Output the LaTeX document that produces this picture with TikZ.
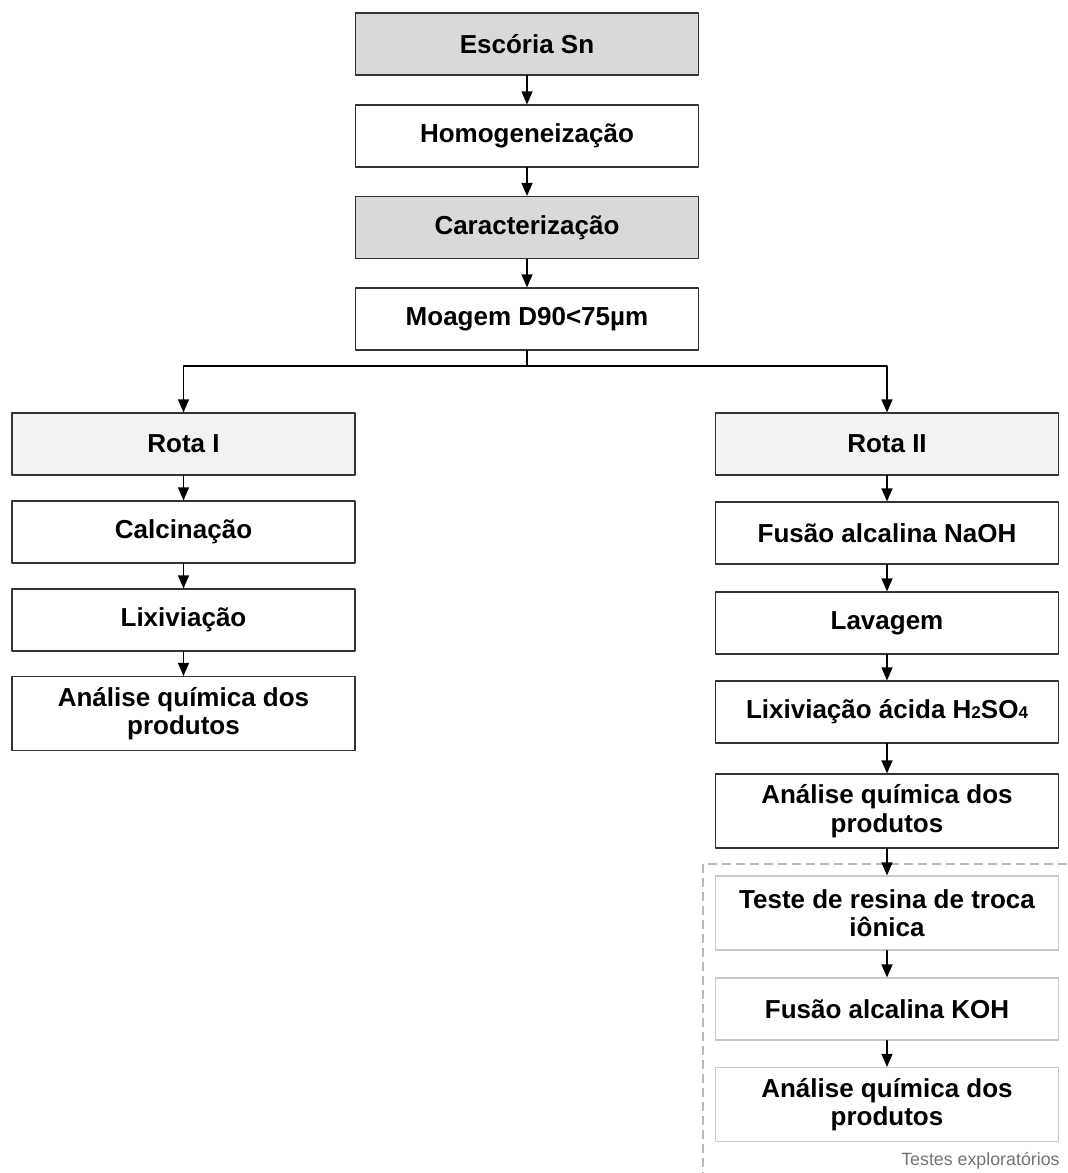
\documentclass[tikz,border=0pt]{standalone}
\usepackage{fontspec}
\setmainfont{Liberation Sans}
\usepackage{xcolor}
\usepackage{tikz}
\usetikzlibrary{arrows.meta,calc,positioning}
\definecolor{fillg}{HTML}{D9D9D9}
\definecolor{filll}{HTML}{F2F2F2}
\definecolor{edget}{HTML}{C8C8C8}
\definecolor{dashg}{HTML}{B8B8B8}
\newcommand{\smalldig}[1]{{\fontsize{8.5}{9}\selectfont #1}}
\tikzset{
  boxw/.style={rectangle, draw=black!80, line width=0.6pt, fill=white, minimum width=171.5pt,
    minimum height=31pt, inner sep=0pt, align=center,
    font=\fontsize{13}{14.2}\selectfont\bfseries},
  boxg/.style={boxw, fill=fillg},
  boxl/.style={boxw, fill=filll},
  boxt/.style={boxw, draw=edget},
  twol/.style={minimum height=37pt},
  arr/.style={-{Triangle[width=5.5pt,length=6.5pt]}, line width=0.6pt},
  every picture/.style={line cap=round, line join=round}
}

\begin{document}
\begin{tikzpicture}[x=0.5pt, y=-0.5pt]
  \useasboundingbox (0,0) rectangle (1067,1173);
  % main trunk
  \node[boxg] (esc) at (527,44) {Escória Sn};
  \node[boxw] (hom) at (527,136) {Homogeneização};
  \node[boxg] (car) at (527,227.5) {Caracterização};
  \node[boxw] (moa) at (527,319) {Moagem D90<75µm};
  \coordinate (split) at (527,366);
  % route I
  \node[boxl] (rota1) at (183.5,444) {Rota I};
  \node[boxw] (calc) at (183.5,532) {Calcinação};
  \node[boxw] (lix) at (183.5,620) {Lixiviação};
  \node[boxw, twol] (ana1) at (183.5,713.5) {Análise química dos\\produtos};
  % route II
  \node[boxl] (rota2) at (887,444) {Rota II};
  \node[boxw] (fna) at (887,533) {Fusão alcalina NaOH};
  \node[boxw] (lav) at (887,623) {Lavagem};
  \node[boxw] (lac) at (887,712) {Lixiviação ácida H\smalldig{2}SO\smalldig{4}};
  \node[boxw, twol] (ana2) at (887,811) {Análise química dos\\produtos};
  % exploratory tests
  \draw[dashg, line width=0.6pt, dash pattern=on 4.5pt off 2.5pt, line cap=butt]
    (1067,864) -- (703,864) -- (703,1173);
  \node[boxt, twol] (tes) at (887,913) {Teste de resina de troca\\iônica};
  \node[boxt] (fko) at (887,1009) {Fusão alcalina KOH};
  \node[boxt, twol] (ana3) at (887,1104.5) {Análise química dos\\produtos};
  \node[anchor=base east, text=black!55, inner sep=0pt, font=\fontsize{8.9}{10}\selectfont]
    (lbl) at (1060,1165) {Testes exploratórios};
  % connectors
  \draw[arr] (esc) -- (hom);
  \draw[arr] (hom) -- (car);
  \draw[arr] (car) -- (moa);
  \draw[arr] (moa) -- (split) -| (rota1);
  \draw[arr] (split) -| (rota2);
  \draw[arr] (rota1) -- (calc);
  \draw[arr] (calc) -- (lix);
  \draw[arr] (lix) -- (ana1);
  \draw[arr] (rota2) -- (fna);
  \draw[arr] (fna) -- (lav);
  \draw[arr] (lav) -- (lac);
  \draw[arr] (lac) -- (ana2);
  \draw[arr] (ana2) -- (tes);
  \draw[arr] (tes) -- (fko);
  \draw[arr] (fko) -- (ana3);
\end{tikzpicture}
\end{document}
